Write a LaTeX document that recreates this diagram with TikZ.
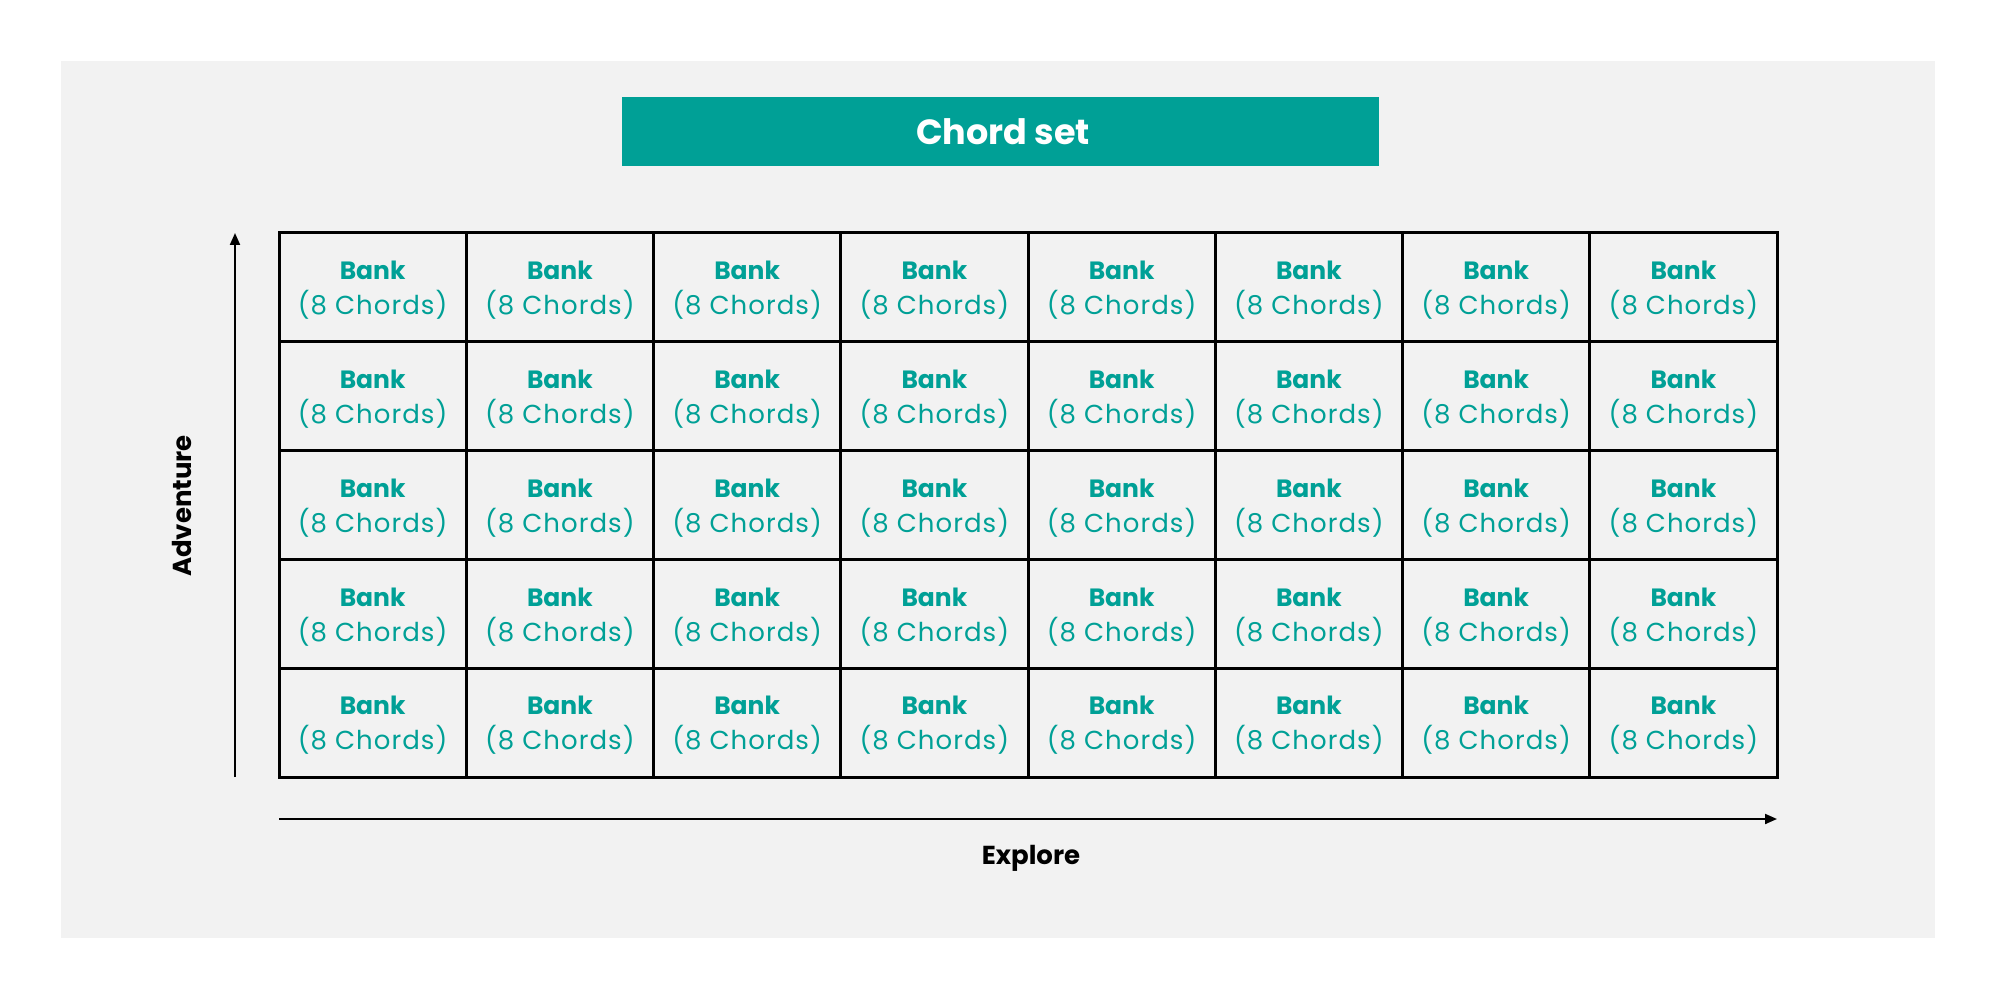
\documentclass[tikz,border=0pt]{standalone}
\usepackage{fontspec}
\setmainfont{Poppins}
\newfontfamily\chordfont[LetterSpace=4]{Poppins}
\usetikzlibrary{arrows.meta}
\definecolor{teal1}{RGB}{0,160,150}
\definecolor{bggray}{RGB}{242,242,242}
\begin{document}
\begin{tikzpicture}[x=1pt,y=-1pt,
  cell/.style={draw=black,line width=3pt,minimum width=187.25pt,minimum height=108.8pt,inner sep=0pt},
  celltext/.style={align=center,text=teal1,inner sep=0pt,font=\fontsize{25}{35}\selectfont},
  axis/.style={line width=2pt,-{Triangle[length=12pt,width=10pt]}},
  axislabel/.style={font=\fontsize{26}{30}\selectfont\bfseries,text=black,inner sep=0pt}]
\useasboundingbox (0,0) rectangle (2000,1000);
\fill[bggray] (61,61) rectangle (1935,938);
\node[fill=teal1,minimum width=757pt,minimum height=69pt,inner sep=0pt,text=white,
  font=\fontsize{35}{40}\selectfont\bfseries] (title) at (1000,131.5) {\hspace*{6pt}Chord set};
\foreach \i in {0,...,7}{
  \foreach \j in {0,...,4}{
    \pgfmathsetmacro{\cx}{279+187.25*(\i+0.5)}
    \pgfmathsetmacro{\cy}{233+108.8*(\j+0.5)}
    \node[cell] (c-\i-\j) at (\cx,\cy) {};
    \node[celltext,yshift=-3pt] (t-\i-\j) at (c-\i-\j.center)
      {\textbf{Bank}\\{\chordfont\fontsize{26}{35}\selectfont(8 Chords)}};
  }
}
\coordinate (vb) at (235,777);
\coordinate (vt) at (235,233);
\coordinate (hl) at (279,819);
\coordinate (hr) at (1777,819);
\draw[axis] (vb) -- (vt);
\draw[axis] (hl) -- (hr);
\node[axislabel,rotate=90] (adv) at (182,506) {Adventure};
\node[axislabel] (exp) at (1031,858) {Explore};
\end{tikzpicture}
\end{document}
